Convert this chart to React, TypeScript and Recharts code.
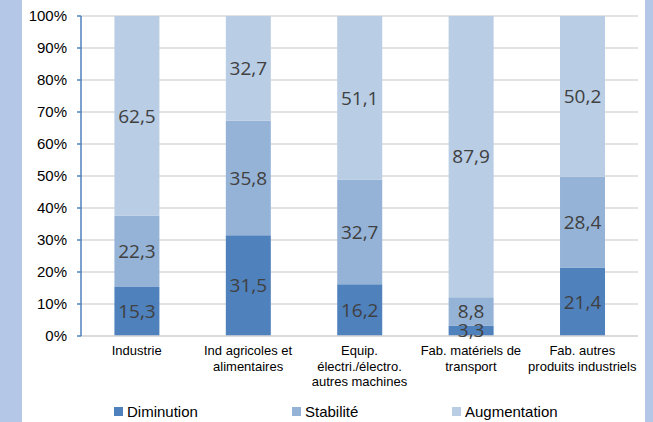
import React from "react";
import { BarChart, Bar, XAxis, YAxis, CartesianGrid, LabelList } from "recharts";

const categories = [
  "Industrie",
  "Ind agricoles et\nalimentaires",
  "Equip.\nélectri./électro.\nautres machines",
  "Fab. matériels de\ntransport",
  "Fab. autres\nproduits industriels",
];
const diminution = [15.3, 31.5, 16.2, 3.3, 21.4];
const stabilite = [22.3, 35.8, 32.7, 8.8, 28.4];
const augmentation = [62.5, 32.7, 51.1, 87.9, 50.2];
const yTicks = [0, 10, 20, 30, 40, 50, 60, 70, 80, 90, 100];

const seriesNames = ["Diminution", "Stabilité", "Augmentation"];
const seriesColors = ["#4f81bd", "#95b3d7", "#b9cde5"];

const data = categories.map((c, i) => ({
  name: c,
  dim: diminution[i],
  sta: stabilite[i],
  aug: augmentation[i],
}));

const fmt = (v: any) => String(v).replace(".", ",");

const CatTick = (props: any) => {
  const { x, y, payload } = props;
  const lines = String(payload.value).split("\n");
  return (
    <text x={x} y={y} textAnchor="middle" fontFamily="Liberation Sans, Arial" fontSize={13} fill="#000">
      {lines.map((l: string, i: number) => (
        <tspan key={i} x={x} dy={i === 0 ? 11 : 15.5}>
          {l}
        </tspan>
      ))}
    </text>
  );
};

const legendLefts = [114, 292, 452];

export default function App() {
  return (
    <div style={{ position: "fixed", left: 0, top: 0, width: 653, height: 422, background: "#fff", overflow: "hidden" }}>
      <div style={{ position: "absolute", left: 0, top: 0, width: 22, height: 422, background: "#b4c7e7" }} />
      <div style={{ position: "absolute", left: 645, top: 0, width: 8, height: 422, background: "#b4c7e7" }} />
      <BarChart
        width={653}
        height={422}
        data={data}
        margin={{ top: 16, right: 15, bottom: 36, left: 0 }}
        barCategoryGap="30%"
        style={{ position: "absolute", left: 0, top: 0 }}
      >
        <CartesianGrid vertical={false} stroke="#d9d9d9" strokeWidth={1.5} />
        <XAxis
          dataKey="name"
          height={50}
          axisLine={{ stroke: "#d9d9d9", strokeWidth: 1.5 }}
          tickLine={false}
          interval={0}
          tick={<CatTick />}
        />
        <YAxis
          width={81}
          domain={[0, 100]}
          ticks={yTicks}
          allowDataOverflow
          tickFormatter={(v: number) => `${v}%`}
          axisLine={{ stroke: "#4f81bd", strokeWidth: 1.5 }}
          tickLine={{ stroke: "#4f81bd", strokeWidth: 1.5 }}
          tickSize={4}
          tickMargin={10}
          tick={{ fontFamily: "Liberation Sans, Arial", fontSize: 15, fill: "#000" }}
        />
        {(["dim", "sta", "aug"] as const).map((k, i) => (
          <Bar key={k} dataKey={k} name={seriesNames[i]} stackId="a" fill={seriesColors[i]} isAnimationActive={false}>
            <LabelList
              dataKey={k}
              position="center"
              formatter={fmt}
              style={{ fontFamily: "Open Sans", fontSize: 19, fill: "#404040" }}
            />
          </Bar>
        ))}
      </BarChart>
      {seriesNames.map((n, i) => (
        <div
          key={n}
          style={{
            position: "absolute",
            left: legendLefts[i],
            top: 402,
            height: 18,
            display: "flex",
            alignItems: "center",
            fontFamily: "Liberation Sans, Arial",
            fontSize: 15,
            color: "#000",
          }}
        >
          <span style={{ display: "inline-block", width: 9, height: 9, background: seriesColors[i], marginRight: 4 }} />
          {n}
        </div>
      ))}
    </div>
  );
}
